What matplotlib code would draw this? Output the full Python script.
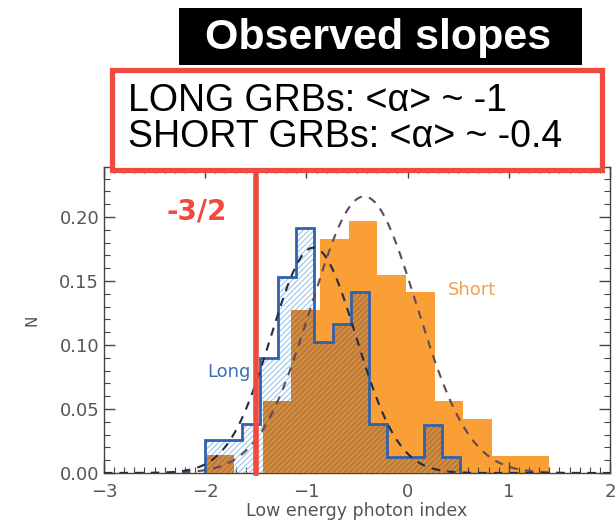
import numpy as np
import matplotlib
matplotlib.use("Agg")
import matplotlib.pyplot as plt
from matplotlib.patches import Rectangle
from matplotlib.ticker import MultipleLocator

# ---------------- data ----------------
long_start = -2.0
long_binwidth = 0.18
long_frac = [0.026, 0.026, 0.038, 0.090, 0.153, 0.191, 0.102,
             0.116, 0.141, 0.038, 0.0125, 0.0125, 0.0375, 0.0125]

short_start = -2.0
short_binwidth = 0.2833
short_frac = [0.014, 0.0, 0.056, 0.127, 0.183, 0.197, 0.155,
              0.141, 0.056, 0.042, 0.013, 0.013]

# Gaussian fits: amplitude, mean, sigma
long_fit = (0.176, -0.93, 0.42)
short_fit = (0.216, -0.43, 0.52)

xticks = [-3, -2, -1, 0, 1, 2]
xtick_labels = ["\u22123", "\u22122", "\u22121", "0", "1", "2"]
yticks = [0.00, 0.05, 0.10, 0.15, 0.20]
ytick_labels = ["0.00", "0.05", "0.10", "0.15", "0.20"]
slope_line = -1.5

title_text = "Observed slopes"
box_lines = ["LONG GRBs: <\u03b1> ~ -1", "SHORT GRBs: <\u03b1> ~ -0.4"]

# ---------------- styling ----------------
BLUE = "#2f62ad"
LIGHTBLUE = "#9cc4e8"
ORANGE = "#fa9f36"
OVER_FACE = "#d48b3e"
OVER_HATCH = "#a8723c"
RED = "#ee4a3d"
GREY = "#555555"

plt.rcParams["hatch.linewidth"] = 0.8

W, H = 616, 523
fig = plt.figure(figsize=(W / 100, H / 100), dpi=100)
ax = fig.add_axes([104 / W, 50 / H, 506 / W, 306 / H])

long_vals = np.array(long_frac)
short_vals = np.array(short_frac)
long_edges = long_start + long_binwidth * np.arange(len(long_vals) + 1)
short_edges = short_start + short_binwidth * np.arange(len(short_vals) + 1)


def step_value(edges, vals, x):
    idx = np.searchsorted(edges, x, side="right") - 1
    out = np.zeros_like(x, dtype=float)
    ok = (idx >= 0) & (idx < len(vals))
    out[ok] = vals[idx[ok]]
    return out


# Short histogram (filled orange)
ax.fill_between(short_edges, np.append(short_vals, short_vals[-1]), step="post",
                facecolor=ORANGE, edgecolor="none", linewidth=0, zorder=1)

# Long histogram hatch (light blue, on white)
ax.fill_between(long_edges, np.append(long_vals, long_vals[-1]), step="post",
                facecolor="none", edgecolor=LIGHTBLUE, hatch="//////",
                linewidth=0, zorder=2)

# Overlap region: brownish hatch on orange
merged = np.union1d(long_edges, short_edges)
mids = 0.5 * (merged[:-1] + merged[1:])
over = np.minimum(step_value(long_edges, long_vals, mids),
                  step_value(short_edges, short_vals, mids))
ax.fill_between(merged, np.append(over, over[-1]), step="post",
                facecolor=OVER_FACE, edgecolor=OVER_HATCH, hatch="//////",
                linewidth=0, zorder=3)

# Long outline
ax.stairs(long_vals, long_edges, color=BLUE, linewidth=2.0, zorder=5)

# Gaussian fits
xs = np.linspace(-3, 2, 500)


def gauss(p, x):
    a, m, s = p
    return a * np.exp(-(x - m) ** 2 / (2 * s ** 2))


ax.plot(xs, gauss(short_fit, xs), color="#5d4a5c", lw=1.5, ls=(0, (4, 3.5)), zorder=6)
ax.plot(xs, gauss(long_fit, xs), color="#222a44", lw=1.5, ls=(0, (4, 3.5)), zorder=6)

# Red slope line
ax.axvline(slope_line, ymin=0, ymax=1.01, color=RED, lw=4, clip_on=False, zorder=8)

ax.set_xlim(-3, 2)
ax.set_ylim(0, 0.239)
ax.set_xticks(xticks)
ax.set_xticklabels(xtick_labels)
ax.set_yticks(yticks)
ax.set_yticklabels(ytick_labels)
ax.xaxis.set_minor_locator(MultipleLocator(0.1))
ax.yaxis.set_minor_locator(MultipleLocator(0.01))
ax.tick_params(which="both", direction="in", top=True, right=True,
               colors="#444444", labelcolor=GREY, labelsize=13)
ax.tick_params(which="major", length=8, width=1)
ax.tick_params(which="minor", length=4, width=0.8)
ax.tick_params(axis="x", pad=7)
for sp in ax.spines.values():
    sp.set_color("#444444")
    sp.set_linewidth(1.0)

ax.set_xlabel("Low energy photon index", fontsize=12.5, color=GREY, labelpad=1)
ax.set_ylabel("N", fontsize=11, color=GREY, labelpad=14)

ax.text(-1.98, 0.079, "Long", color="#3d6db5", fontsize=13, ha="left", va="center", zorder=9)
ax.text(0.40, 0.143, "Short", color="#f0a154", fontsize=13, ha="left", va="center", zorder=9)
ax.text(-2.38, 0.204, "-3/2", color=RED, fontsize=20, fontweight="bold",
        ha="left", va="center", zorder=9)


# Title black box
def fx(px):
    return px / W


def fy(py):
    return 1 - py / H


fig.patches.append(Rectangle((fx(179), fy(65)), fx(582) - fx(179), fy(8) - fy(65),
                             transform=fig.transFigure, facecolor="black",
                             edgecolor="none", zorder=10))
fig.text(fx(378), fy(38), title_text, color="white", fontsize=31, fontweight="bold",
         family="Liberation Sans", ha="center", va="center", zorder=11)

# Red bordered text box
fig.patches.append(Rectangle((fx(112), fy(170)), fx(602) - fx(112), fy(70) - fy(170),
                             transform=fig.transFigure, facecolor="white",
                             edgecolor=RED, linewidth=3.8, zorder=10))
fig.text(fx(128), fy(101), box_lines[0], color="black", fontsize=27,
         family="Liberation Sans", ha="left", va="center", zorder=11)
fig.text(fx(128), fy(137), box_lines[1], color="black", fontsize=27,
         family="Liberation Sans", ha="left", va="center", zorder=11)

fig.savefig("out.png", dpi=100)
